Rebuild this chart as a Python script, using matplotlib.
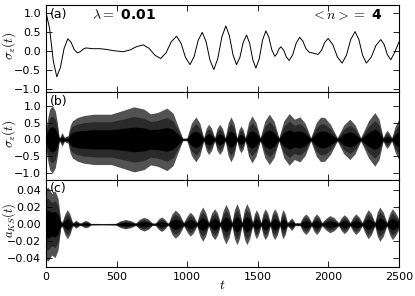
import matplotlib
matplotlib.use("Agg")
import matplotlib.pyplot as plt
import numpy as np

# (a) sigma_z(t), points (extrema plus shoulder points)
t_a = [0, 25, 51, 76, 102, 128, 154, 177, 199, 222, 242, 263, 283, 330, 382,
       430, 475, 547, 594, 642, 689, 730, 771, 812, 850, 887, 925, 957, 988,
       1020, 1049, 1078, 1107, 1134, 1162, 1189, 1217, 1246, 1274, 1299, 1325,
       1350, 1374, 1397, 1421, 1443, 1465, 1487, 1511, 1534, 1558, 1579, 1600,
       1621, 1635, 1650, 1664, 1684, 1703, 1723, 1748, 1773, 1798, 1820, 1842,
       1864, 1896, 1928, 1952, 1975, 1999, 2032, 2065, 2098, 2129, 2159, 2190,
       2217, 2243, 2270, 2304, 2338, 2372, 2396, 2419, 2443, 2472, 2500]
sz_a = [1.0, 0.58, -0.27, -0.69, -0.44, 0.06, 0.31, 0.22, 0.03, -0.06, -0.03,
        0.04, 0.07, 0.05, 0.05, 0.03, 0.0, -0.03, 0.015, 0.105, 0.15, 0.06,
        -0.12, -0.21, -0.06, 0.23, 0.38, 0.19, -0.18, -0.37, -0.16, 0.27, 0.48,
        0.235, -0.255, -0.5, -0.21, 0.36, 0.65, 0.395, -0.115, -0.37, -0.175,
        0.215, 0.41, 0.19, -0.24, -0.46, -0.215, 0.275, 0.52, 0.35, 0.02,
        -0.15, -0.09, 0.04, 0.1, 0.01, -0.17, -0.26, -0.11, 0.2, 0.35, 0.25,
        0.05, -0.04, -0.07, -0.1, 0.005, 0.215, 0.32, 0.16, -0.17, -0.33,
        -0.12, 0.29, 0.5, 0.29, -0.12, -0.33, -0.175, 0.135, 0.29, 0.16, -0.11,
        -0.24, -0.04, 0.22]

# (b) sigma_z(t), fast oscillation: upper envelope
t_b = [0, 10, 25, 45, 65, 80, 92, 99, 106, 113, 120, 130, 143, 155, 170, 186,
       222, 269, 340, 460, 552, 623, 694, 740, 790, 857, 900, 930, 968, 998,
       1030, 1062, 1090, 1117, 1135, 1152, 1173, 1195, 1212, 1230, 1250, 1270,
       1290, 1310, 1332, 1353, 1367, 1381, 1397, 1412, 1435, 1459, 1488, 1518,
       1550, 1582, 1616, 1650, 1685, 1723, 1760, 1799, 1836, 1876, 1915, 1945,
       1975, 2015, 2064, 2110, 2153, 2190, 2230, 2285, 2330, 2360, 2389, 2403,
       2417, 2432, 2450, 2475, 2500]
env_b = [0.33, 0.6, 0.9, 1.0, 0.85, 0.5, 0.08, 0.07, 0.15, 0.2, 0.15, 0.06,
         0.1, 0.1, 0.4, 0.55, 0.65, 0.71, 0.75, 0.75, 0.87, 0.97, 0.9, 0.76,
         0.8, 0.93, 0.78, 0.45, 0.04, 0.04, 0.48, 0.67, 0.48, 0.05, 0.33, 0.45,
         0.33, 0.05, 0.33, 0.45, 0.33, 0.05, 0.48, 0.67, 0.48, 0.05, 0.29, 0.4,
         0.29, 0.05, 0.5, 0.7, 0.5, 0.05, 0.54, 0.75, 0.54, 0.05, 0.55, 0.77,
         0.6, 0.67, 0.48, 0.05, 0.5, 0.66, 0.65, 0.45, 0.05, 0.43, 0.6, 0.43,
         0.05, 0.55, 0.8, 0.6, 0.05, 0.19, 0.27, 0.19, 0.05, 0.4, 0.6]

# (c) a_KS(t): upper envelope
t_c = [0, 15, 40, 64, 85, 104, 115, 133, 151, 169, 186, 193, 202, 210, 222,
       234, 246, 263, 281, 299, 316, 400, 493, 528, 564, 600, 635, 665, 694,
       724, 753, 775, 797, 818, 840, 862, 869, 892, 916, 945, 975, 1002, 1022,
       1045, 1069, 1090, 1110, 1131, 1152, 1173, 1195, 1215, 1234, 1255, 1275,
       1296, 1317, 1335, 1353, 1370, 1388, 1405, 1423, 1443, 1464, 1477, 1490,
       1506, 1523, 1538, 1553, 1571, 1589, 1604, 1620, 1638, 1657, 1668, 1680,
       1695, 1710, 1728, 1740, 1752, 1765, 1782, 1799, 1820, 1841, 1861, 1881,
       1899, 1917, 1936, 1955, 1985, 2011, 2042, 2073, 2095, 2113, 2134, 2155,
       2176, 2195, 2218, 2240, 2265, 2283, 2306, 2330, 2347, 2365, 2390, 2415,
       2436, 2455, 2478, 2500]
env_c = [0.042, 0.043, 0.036, 0.039, 0.03, 0.004, 0.003, 0.012, 0.017, 0.012,
         0.003, 0.002, 0.0035, 0.0047, 0.0035, 0.002, 0.0015, 0.0032, 0.0043,
         0.0032, 0.001, 0.0008, 0.001, 0.004, 0.0055, 0.004, 0.0015, 0.006,
         0.008, 0.006, 0.0015, 0.0015, 0.006, 0.0085, 0.006, 0.0015, 0.002,
         0.012, 0.0164, 0.012, 0.002, 0.01, 0.014, 0.01, 0.002, 0.014, 0.02,
         0.014, 0.002, 0.013, 0.018, 0.013, 0.002, 0.016, 0.023, 0.016, 0.002,
         0.017, 0.024, 0.017, 0.002, 0.017, 0.024, 0.017, 0.002, 0.012, 0.017,
         0.012, 0.002, 0.013, 0.018, 0.013, 0.002, 0.013, 0.018, 0.013, 0.002,
         0.012, 0.017, 0.012, 0.002, 0.005, 0.0074, 0.005, 0.0015, 0.002,
         0.0015, 0.0085, 0.012, 0.0085, 0.002, 0.0085, 0.012, 0.0085, 0.002,
         0.007, 0.01, 0.0075, 0.002, 0.008, 0.011, 0.008, 0.002, 0.0085, 0.012,
         0.0085, 0.002, 0.012, 0.017, 0.012, 0.002, 0.014, 0.02, 0.014, 0.002,
         0.013, 0.018, 0.013, 0.006]

# shading layers for the dense traces: (fraction of envelope, colour)
LAYERS = [(1.0, "#525252"), (0.7, "#2a2a2a"), (0.38, "black")]

plt.rcParams["font.size"] = 8
plt.rcParams["mathtext.fontset"] = "cm"

fig, axes = plt.subplots(3, 1, figsize=(4.15, 2.96), dpi=100, sharex=True)
fig.subplots_adjust(left=0.111, right=0.961, top=0.983, bottom=0.098, hspace=0)
ax_a, ax_b, ax_c = axes

ax_a.plot(t_a, sz_a, color="black", lw=0.7)
ax_a.set_ylim(-1.1, 1.2)
ax_a.set_yticks([-1.0, -0.5, 0.0, 0.5, 1.0])
ax_a.set_ylabel(r"$\sigma_z(t)$", fontsize=9.5)
ax_a.text(0.221, 0.886, r"$\lambda=$ 0.01", transform=ax_a.transAxes,
          fontsize=10, fontweight="bold", va="center", ha="center")
ax_a.text(0.952, 0.886, r"$<n>=$ 4", transform=ax_a.transAxes,
          fontsize=10, fontweight="bold", va="center", ha="right")


def dense(ax, t, env):
    t, env = np.array(t), np.array(env)
    for frac, col in LAYERS:
        ax.fill_between(t, -frac * env, frac * env, color=col, lw=0)


dense(ax_b, t_b, env_b)
ax_b.set_ylim(-1.2, 1.4)
ax_b.set_yticks([-1.0, -0.5, 0.0, 0.5, 1.0])
ax_b.set_ylabel(r"$\sigma_z(t)$", fontsize=9.5)

dense(ax_c, t_c, env_c)
ax_c.set_ylim(-0.05, 0.052)
ax_c.set_yticks([-0.04, -0.02, 0.0, 0.02, 0.04])
ax_c.set_ylabel(r"$a_{KS}(t)$", fontsize=9)
ax_c.set_xlim(0, 2500)
ax_c.set_xticks([0, 500, 1000, 1500, 2000, 2500])
ax_c.set_xlabel(r"$t$", fontsize=10)
ax_c.xaxis.set_label_coords(0.5, -0.13)

for ax, lab in zip(axes, ["(a)", "(b)", "(c)"]):
    ax.yaxis.set_label_coords(-0.08, 0.53)
    ax.text(0.012, 0.97, lab, transform=ax.transAxes, fontsize=9,
            va="top", ha="left")
    ax.tick_params(direction="in", top=True, right=True, length=4, width=0.6)
    for s in ax.spines.values():
        s.set_linewidth(0.8)

fig.savefig("out.png", dpi=100)
